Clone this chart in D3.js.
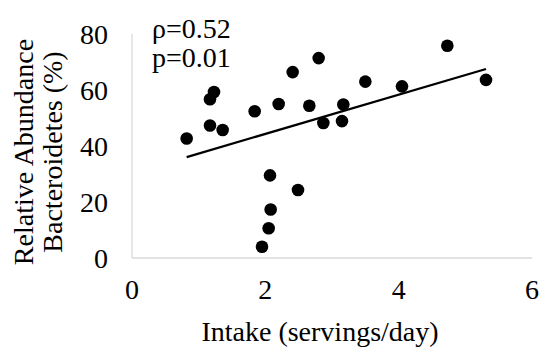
<!DOCTYPE html>
<html><head><meta charset="utf-8">
<script src="https://cdn.jsdelivr.net/npm/d3@7"></script>
<style>body{margin:0;background:#fff}svg{display:block}</style>
</head><body><svg id="c" width="544" height="352"></svg>
<script>
const intake = [0.82,1.17,1.17,1.23,1.36,1.84,2.20,2.41,2.66,2.80,2.87,3.17,3.15,3.50,4.05,4.73,5.31,2.07,2.49,2.08,2.05,1.95];
const abundance = [42.7,47.3,56.7,59.3,45.7,52.4,55.0,66.4,54.4,71.4,48.2,54.8,48.9,63.0,61.3,75.8,63.6,29.5,24.3,17.3,10.6,4.0];
const xTicks = [0,2,4,6];
const yTicks = [0,20,40,60,80];
const statsLines = ["ρ=0.52","p=0.01"];
const yTitle = ["Relative Abundance","Bacteroidetes (%)"];
const xTitle = "Intake (servings/day)";

const svg = d3.select("#c");
const ff = "Liberation Serif, Times New Roman, Times, serif";
const x = d3.scaleLinear().domain([0,6]).range([132,532]);
const y = d3.scaleLinear().domain([0,80]).range([258,34]);

svg.append("line").attr("x1",x(0)).attr("x2",x(6)).attr("y1",y(0)).attr("y2",y(0)).attr("stroke","#d9d9d9").attr("stroke-width",1.3);
svg.append("line").attr("x1",x(0)).attr("x2",x(0)).attr("y1",y(0)).attr("y2",y(80)).attr("stroke","#d9d9d9").attr("stroke-width",1.3);

const fs = 28;
function txt(){ return svg.append("text").attr("font-family",ff).attr("font-size",fs).attr("fill","#000"); }
xTicks.forEach(d=>txt().attr("x",x(d)).attr("y",299).attr("text-anchor","middle").text(d));
yTicks.forEach(d=>txt().attr("x",108).attr("y",y(d)+10).attr("text-anchor","end").text(d));

txt().attr("x",(x(0)+x(6))/2 - 12).attr("y",341).attr("text-anchor","middle").text(xTitle);
yTitle.forEach((t,i)=>{
  txt().attr("transform",`translate(${33+i*29},152) rotate(-90)`).attr("text-anchor","middle").text(t);
});

const n = intake.length;
const mx = d3.mean(intake), my = d3.mean(abundance);
let sxy=0,sxx=0;
for(let i=0;i<n;i++){sxy+=(intake[i]-mx)*(abundance[i]-my);sxx+=(intake[i]-mx)**2;}
const b = sxy/sxx, a = my-b*mx;
const [x0,x1] = d3.extent(intake);
svg.append("line").attr("x1",x(x0)).attr("y1",y(a+b*x0)).attr("x2",x(x1)).attr("y2",y(a+b*x1)).attr("stroke","#000").attr("stroke-width",2.2);

svg.selectAll(".pt").data(intake).enter().append("circle").attr("cx",d=>x(d)).attr("cy",(d,i)=>y(abundance[i])).attr("r",6.3).attr("fill","#000");

statsLines.forEach((t,i)=>{
  txt().attr("x",152).attr("y",38+i*29).text(t);
});
</script></body></html>
